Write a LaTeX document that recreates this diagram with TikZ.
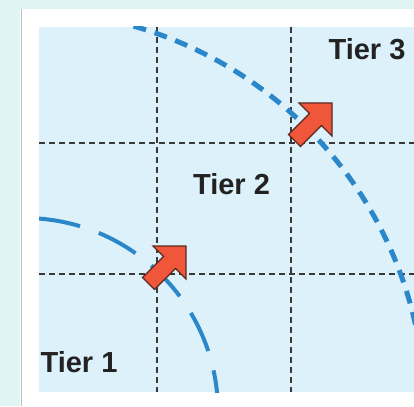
\documentclass[tikz,border=0pt]{standalone}
\usepackage{fontspec}
\setmainfont{Liberation Sans}
\definecolor{bgteal}{HTML}{E0F5F3}
\definecolor{panelblue}{HTML}{DDF1FB}
\definecolor{ringblue}{HTML}{2A87C9}
\definecolor{arroworange}{HTML}{F0573A}
\definecolor{arrowedge}{HTML}{5A2A22}
\definecolor{gridgrey}{HTML}{3A3A3A}
\definecolor{textdark}{HTML}{222222}
\tikzset{
  gridline/.style={draw=gridgrey, line width=1.2pt, dash pattern=on 6pt off 4pt},
  ringone/.style={draw=ringblue, line width=4pt, dash pattern=on 42pt off 20pt},
  ringthree/.style={draw=ringblue, line width=5pt, dash pattern=on 13pt off 9pt},
  blockarrow/.style={fill=arroworange, draw=arrowedge, line width=1.1pt, line join=miter},
  tierlabel/.style={inner sep=0pt, anchor=base, text=textdark, font=\bfseries\fontsize{29}{29}\selectfont}
}
\begin{document}
\begin{tikzpicture}[x=1pt, y=-1pt]
\useasboundingbox (0,0) rectangle (414,406);
% outer background
\fill[bgteal] (0,0) rectangle (414,406);
\fill[white, opacity=0.55] (-60,150) .. controls (20,170) and (20,290) .. (-60,320) -- cycle;
% card
\fill[white] (20,9) rectangle (414,406);
\draw[color=black!25, line width=1pt] (21,9) -- (21,406);
% panel
\fill[panelblue] (39,27) rectangle (414,392);
\coordinate (c) at (24,412);
\begin{scope}
\clip (39,27) rectangle (414,392);
% grid
\coordinate (v1t) at (157,27); \coordinate (v1b) at (157,392);
\coordinate (v2t) at (291,27); \coordinate (v2b) at (291,392);
\coordinate (h1l) at (39,143); \coordinate (h1r) at (414,143);
\coordinate (h2l) at (39,274); \coordinate (h2r) at (414,274);
\draw[gridline] (v1t) -- (v1b);
\draw[gridline] (v2t) -- (v2b);
\draw[gridline] (h1l) -- (h1r);
\draw[gridline] (h2l) -- (h2r);
% rings
\draw[ringone] (c) circle[radius=194pt];
\draw[ringthree] (c) circle[radius=401pt];
\end{scope}
% arrows
\foreach \cx/\cy in {186/246, 332/103}{
  \draw[blockarrow, shift={(\cx,\cy)}]
    (0,0) -- (0,33) -- (-10.5,22.5) -- (-31.5,43.5) -- (-43.5,31.5) -- (-22.5,10.5) -- (-33,0) -- cycle;
}
% labels
\node[tierlabel] (t3) at (367,60) {Tier 3};
\node[tierlabel] (t2) at (231.5,194) {Tier 2};
\node[tierlabel] (t1) at (79,372) {Tier 1};
\end{tikzpicture}
\end{document}
